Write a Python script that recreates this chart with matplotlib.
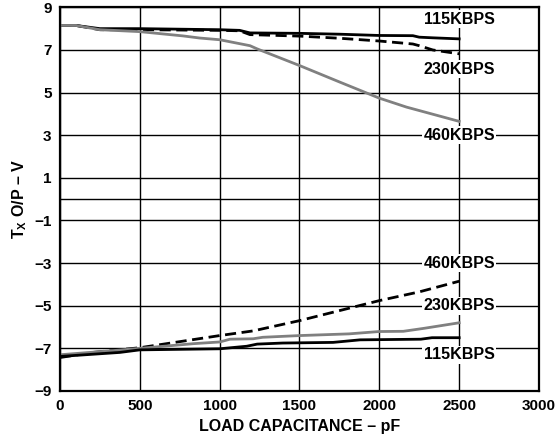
import matplotlib
matplotlib.use("Agg")
import matplotlib.pyplot as plt

plt.rcParams['font.family'] = ['Liberation Sans', 'DejaVu Sans']
plt.rcParams['font.weight'] = 'bold'
plt.rcParams['mathtext.fontset'] = 'custom'
plt.rcParams['mathtext.rm'] = 'Liberation Sans:bold'
plt.rcParams['mathtext.it'] = 'Liberation Sans:bold'
plt.rcParams['mathtext.bf'] = 'Liberation Sans:bold'

# load capacitance (pF) sample points for each trace
hi_115_x = [0, 100, 250, 500, 1000, 1125, 1190, 1500, 1750, 2000, 2210, 2250, 2335, 2500]
hi_115_y = [8.15, 8.15, 8.0, 8.0, 7.95, 7.92, 7.8, 7.78, 7.74, 7.68, 7.67, 7.6, 7.57, 7.52]

hi_230_x = [0, 100, 250, 500, 1000, 1125, 1190, 1500, 1750, 2000, 2210, 2250, 2335, 2500]
hi_230_y = [8.15, 8.15, 7.95, 7.95, 7.92, 7.9, 7.72, 7.65, 7.55, 7.42, 7.28, 7.2, 7.0, 6.82]

hi_460_x = [0, 100, 250, 500, 770, 875, 1000, 1190, 1235, 1500, 1750, 2000, 2170, 2500]
hi_460_y = [8.15, 8.15, 7.95, 7.86, 7.66, 7.56, 7.48, 7.2, 7.05, 6.27, 5.5, 4.74, 4.32, 3.65]

lo_dash_x = [0, 206, 500, 1000, 1210, 1500, 2000, 2250, 2500]
lo_dash_y = [-7.43, -7.19, -6.97, -6.4, -6.18, -5.7, -4.76, -4.35, -3.85]

lo_gray_x = [0, 375, 500, 835, 1000, 1065, 1210, 1270, 1500, 1810, 2000, 2150, 2280, 2500]
lo_gray_y = [-7.3, -7.08, -7.0, -6.78, -6.7, -6.57, -6.55, -6.48, -6.4, -6.32, -6.21, -6.2, -6.06, -5.8]

lo_115_x = [0, 375, 500, 1000, 1170, 1235, 1395, 1710, 1880, 2260, 2330, 2500]
lo_115_y = [-7.38, -7.19, -7.07, -7.02, -6.9, -6.8, -6.75, -6.72, -6.6, -6.57, -6.5, -6.5]

xticks = [0, 500, 1000, 1500, 2000, 2500, 3000]
yticks = [-9, -7, -5, -3, -1, 1, 3, 5, 7, 9]

labels = [("115KBPS", 8.45), ("230KBPS", 6.1), ("460KBPS", 3.0),
          ("460KBPS", -3.0), ("230KBPS", -5.0), ("115KBPS", -7.3)]

fig = plt.figure(figsize=(5.56, 4.42), dpi=100)
ax = fig.add_axes([0.1079, 0.1154, 0.8615, 0.868])

ax.set_xlim(0, 3000)
ax.set_ylim(-9, 9)
ax.set_xticks(xticks)
ax.set_yticks(yticks)
ax.set_yticks([0], minor=True)
ax.set_yticklabels([str(v).replace('-', '\u2212') for v in yticks])
ax.grid(True, which='both', color='black', linewidth=1.0)
ax.tick_params(length=0, labelsize=11, pad=6)
ax.tick_params(which='minor', length=0)
for s in ax.spines.values():
    s.set_linewidth(1.6)

ax.plot(hi_115_x, hi_115_y, color='black', lw=2)
ax.plot(hi_230_x, hi_230_y, color='black', lw=2, dashes=(4, 2))
ax.plot(hi_460_x, hi_460_y, color='#808080', lw=2)
ax.plot(lo_dash_x, lo_dash_y, color='black', lw=2, dashes=(4, 2))
ax.plot(lo_gray_x, lo_gray_y, color='#808080', lw=2)
ax.plot(lo_115_x, lo_115_y, color='black', lw=2)

for txt, yv in labels:
    ax.text(2500, yv, txt, ha='center', va='center', fontsize=11.5, fontweight='bold',
            bbox=dict(facecolor='white', edgecolor='none', pad=1))

ax.set_xlabel("LOAD CAPACITANCE \u2013 pF", fontsize=11.5, fontweight='bold', labelpad=4)
ax.set_ylabel("T$_{\\rm X}$ O/P \u2013 V", fontsize=11.5, fontweight='bold', labelpad=4)

fig.savefig("out.png", dpi=100)
